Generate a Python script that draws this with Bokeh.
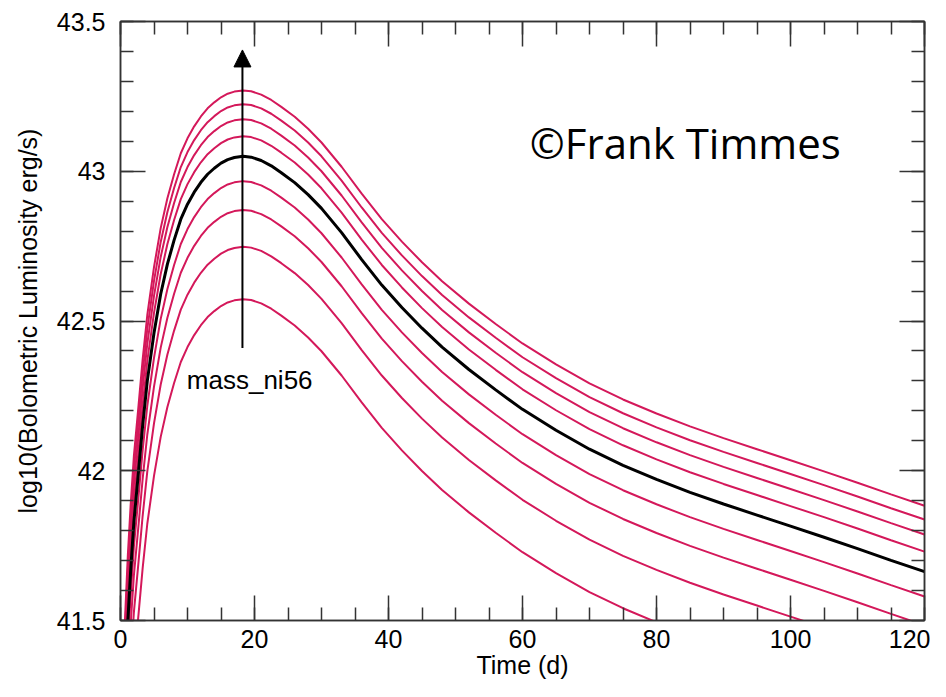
from bokeh.plotting import figure
from bokeh.models import (LinearAxis, FixedTicker, Range1d, Arrow, NormalHead,
                          Label, CustomJSTickFormatter)
from bokeh.embed import file_html
from bokeh.resources import INLINE

# ---- data ----
time_d = [0.5, 1.1, 1.5, 2.0, 2.7, 3.3, 4.0, 5.0, 6.0, 7.0, 8.0, 9.0, 10, 11, 12, 13,
          14, 15, 16, 17, 18.3, 19.5, 21, 22.5, 24, 26, 28, 30, 33, 36, 39, 42, 45,
          48, 52, 56, 60, 65, 70, 75, 80, 85, 90, 95, 100, 105, 110, 115, 120]

lum_1 = [40.723, 41.023, 41.183, 41.353, 41.523, 41.673, 41.823, 41.983, 42.113, 42.213,
         42.293, 42.363, 42.413, 42.453, 42.486, 42.513, 42.533, 42.550, 42.562, 42.569,
         42.573, 42.570, 42.559, 42.541, 42.518, 42.485, 42.445, 42.399, 42.318, 42.228,
         42.143, 42.068, 41.999, 41.936, 41.861, 41.793, 41.728, 41.658, 41.595, 41.541,
         41.494, 41.451, 41.412, 41.375, 41.338, 41.301, 41.263, 41.224, 41.186]
lum_2 = [40.898, 41.198, 41.358, 41.528, 41.698, 41.848, 41.998, 42.158, 42.288, 42.388,
         42.468, 42.538, 42.588, 42.628, 42.661, 42.688, 42.708, 42.725, 42.737, 42.744,
         42.748, 42.745, 42.734, 42.716, 42.693, 42.660, 42.620, 42.574, 42.493, 42.403,
         42.318, 42.243, 42.174, 42.111, 42.036, 41.968, 41.903, 41.833, 41.770, 41.716,
         41.669, 41.626, 41.587, 41.550, 41.513, 41.476, 41.438, 41.399, 41.361]
lum_3 = [41.021, 41.321, 41.481, 41.651, 41.821, 41.971, 42.121, 42.281, 42.411, 42.511,
         42.591, 42.661, 42.711, 42.751, 42.784, 42.811, 42.831, 42.848, 42.860, 42.867,
         42.871, 42.868, 42.857, 42.839, 42.816, 42.783, 42.743, 42.697, 42.616, 42.526,
         42.441, 42.366, 42.297, 42.234, 42.159, 42.091, 42.026, 41.956, 41.893, 41.839,
         41.792, 41.749, 41.710, 41.673, 41.636, 41.599, 41.561, 41.522, 41.484]
lum_4 = [41.117, 41.417, 41.577, 41.747, 41.917, 42.067, 42.217, 42.377, 42.507, 42.607,
         42.687, 42.757, 42.807, 42.847, 42.880, 42.907, 42.927, 42.944, 42.956, 42.963,
         42.967, 42.964, 42.953, 42.935, 42.912, 42.879, 42.839, 42.793, 42.712, 42.622,
         42.537, 42.462, 42.393, 42.330, 42.255, 42.187, 42.122, 42.052, 41.989, 41.935,
         41.888, 41.845, 41.806, 41.769, 41.732, 41.695, 41.657, 41.618, 41.580]
lum_ref = [41.20, 41.50, 41.66, 41.83, 42.00, 42.15, 42.30, 42.46, 42.59, 42.69,
           42.77, 42.84, 42.89, 42.93, 42.963, 42.99, 43.01, 43.027, 43.039, 43.046,
           43.050, 43.047, 43.036, 43.018, 42.995, 42.962, 42.922, 42.876, 42.795, 42.705,
           42.62, 42.545, 42.476, 42.413, 42.338, 42.270, 42.205, 42.135, 42.072, 42.018,
           41.971, 41.928, 41.889, 41.852, 41.815, 41.778, 41.740, 41.701, 41.663]
lum_6 = [41.267, 41.567, 41.727, 41.897, 42.067, 42.217, 42.367, 42.527, 42.657, 42.757,
         42.837, 42.907, 42.957, 42.997, 43.030, 43.057, 43.077, 43.094, 43.106, 43.113,
         43.117, 43.114, 43.103, 43.085, 43.062, 43.029, 42.989, 42.943, 42.862, 42.772,
         42.687, 42.612, 42.543, 42.480, 42.405, 42.337, 42.272, 42.202, 42.139, 42.085,
         42.038, 41.995, 41.956, 41.919, 41.882, 41.845, 41.807, 41.768, 41.730]
lum_7 = [41.324, 41.624, 41.784, 41.954, 42.124, 42.274, 42.424, 42.584, 42.714, 42.814,
         42.894, 42.964, 43.014, 43.054, 43.087, 43.114, 43.134, 43.151, 43.163, 43.170,
         43.174, 43.171, 43.160, 43.142, 43.119, 43.086, 43.046, 43.000, 42.919, 42.829,
         42.744, 42.669, 42.600, 42.537, 42.462, 42.394, 42.329, 42.259, 42.196, 42.142,
         42.095, 42.052, 42.013, 41.976, 41.939, 41.902, 41.864, 41.825, 41.787]
lum_8 = [41.374, 41.674, 41.834, 42.004, 42.174, 42.324, 42.474, 42.634, 42.764, 42.864,
         42.944, 43.014, 43.064, 43.104, 43.137, 43.164, 43.184, 43.201, 43.213, 43.220,
         43.224, 43.221, 43.210, 43.192, 43.169, 43.136, 43.096, 43.050, 42.969, 42.879,
         42.794, 42.719, 42.650, 42.587, 42.512, 42.444, 42.379, 42.309, 42.246, 42.192,
         42.145, 42.102, 42.063, 42.026, 41.989, 41.952, 41.914, 41.875, 41.837]
lum_9 = [41.42, 41.72, 41.88, 42.05, 42.22, 42.37, 42.52, 42.68, 42.81, 42.91,
         42.99, 43.06, 43.11, 43.15, 43.183, 43.21, 43.23, 43.247, 43.259, 43.266,
         43.270, 43.267, 43.256, 43.238, 43.215, 43.182, 43.142, 43.096, 43.015, 42.925,
         42.84, 42.765, 42.696, 42.633, 42.558, 42.490, 42.425, 42.355, 42.292, 42.238,
         42.191, 42.148, 42.109, 42.072, 42.035, 41.998, 41.960, 41.921, 41.883]

x_major = [0, 20, 40, 60, 80, 100, 120]
x_minor = [0, 5, 10, 15, 20, 25, 30, 35, 40, 45, 50, 55, 60, 65, 70, 75, 80, 85, 90,
           95, 100, 105, 110, 115, 120]
y_major = [41.5, 42.0, 42.5, 43.0, 43.5]
y_minor = [41.5, 41.6, 41.7, 41.8, 41.9, 42.0, 42.1, 42.2, 42.3, 42.4, 42.5, 42.6, 42.7,
           42.8, 42.9, 43.0, 43.1, 43.2, 43.3, 43.4, 43.5]

arrow_x = 18.2
arrow_y0 = 42.41
arrow_y1 = 43.405

CRIMSON = "#d4185a"
AX = "#333333"
FONT = "Liberation Sans"

p = figure(width=930, height=681, x_range=Range1d(0, 120), y_range=Range1d(41.5, 43.5),
           output_backend="svg", toolbar_location=None,
           min_border_left=120, min_border_top=21, min_border_right=6,
           min_border_bottom=20, background_fill_color="white",
           border_fill_color="white")
p.grid.visible = False
p.outline_line_color = AX
p.outline_line_width = 1.5

ymt = CustomJSTickFormatter(code="return String(Math.round(tick*10)/10);")

def style(ax, ticks, minor, labels=True):
    ax.ticker = FixedTicker(ticks=ticks, minor_ticks=minor)
    ax.major_tick_in = 25
    ax.major_tick_out = 0
    ax.minor_tick_in = 13
    ax.minor_tick_out = 0
    ax.axis_line_color = AX
    ax.axis_line_width = 1.5
    ax.major_tick_line_color = AX
    ax.major_tick_line_width = 1.5
    ax.minor_tick_line_color = AX
    ax.minor_tick_line_width = 1.5
    if labels:
        ax.major_label_text_font = FONT
        ax.major_label_text_font_size = "25px"
        ax.major_label_text_color = "black"
    else:
        ax.major_label_text_font_size = "1px"
        ax.major_label_text_color = None
        ax.major_label_standoff = 0

xa = p.xaxis[0]
style(xa, x_major, x_minor)
xa.major_label_standoff = 9
xa.axis_label = "Time (d)"
xa.axis_label_text_font = FONT
xa.axis_label_text_font_size = "25px"
xa.axis_label_text_font_style = "normal"
xa.axis_label_text_color = "black"
xa.axis_label_standoff = 0

ya = p.yaxis[0]
style(ya, y_major, y_minor)
ya.formatter = ymt
ya.major_label_standoff = 15
ya.axis_label = "log10(Bolometric Luminosity erg/s)"
ya.axis_label_text_font = FONT
ya.axis_label_text_font_size = "25px"
ya.axis_label_text_font_style = "normal"
ya.axis_label_text_color = "black"
ya.axis_label_standoff = 12

top = LinearAxis()
style(top, x_major, x_minor, labels=False)
p.add_layout(top, "above")
right = LinearAxis()
style(right, y_major, y_minor, labels=False)
p.add_layout(right, "right")

for ys in [lum_1, lum_2, lum_3, lum_4, lum_6, lum_7, lum_8, lum_9]:
    p.line(time_d, ys, line_color=CRIMSON, line_width=2)
p.line(time_d, lum_ref, line_color="black", line_width=3)

p.add_layout(Arrow(end=NormalHead(size=17, fill_color="black", line_color="black"),
                   x_start=arrow_x, y_start=arrow_y0, x_end=arrow_x, y_end=arrow_y1,
                   line_color="black", line_width=2))

p.add_layout(Label(x=9.9, y=42.304, text="mass_ni56", text_font=FONT,
                   text_font_size="26px", text_color="black",
                   text_baseline="alphabetic", text_align="left"))
p.add_layout(Label(x=61.1, y=43.097, text="\u00a9Frank Timmes", text_font="Open Sans",
                   text_font_size="42px", text_color="black",
                   text_baseline="alphabetic", text_align="left"))

open("out.html", "w").write(file_html(p, INLINE))
